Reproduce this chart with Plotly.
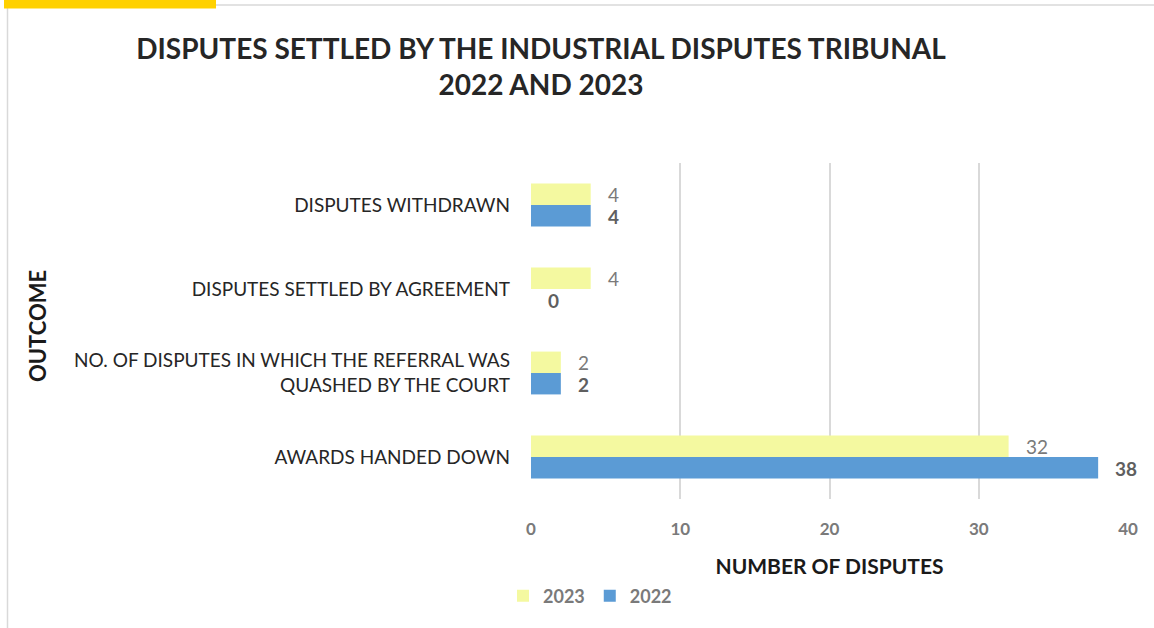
import plotly.graph_objects as go

categories = ["AWARDS HANDED DOWN",
              "NO. OF DISPUTES IN WHICH THE REFERRAL WAS<br>QUASHED BY THE COURT",
              "DISPUTES SETTLED BY AGREEMENT",
              "DISPUTES WITHDRAWN"]
values_2022 = [38, 2, 0, 4]
values_2023 = [32, 2, 4, 4]
x_ticks = [0, 10, 20, 30, 40]

FONT = "Lato, 'Open Sans', sans-serif"
YELLOW = "#F4F9A0"
BLUE = "#5B9BD5"

fig = go.Figure()
fig.add_trace(go.Bar(name="2022", y=categories, x=values_2022, orientation="h",
                     marker=dict(color=BLUE, line=dict(width=0))))
fig.add_trace(go.Bar(name="2023", y=categories, x=values_2023, orientation="h",
                     marker=dict(color=YELLOW, line=dict(width=0))))

# value labels
for cat, v in zip(categories, values_2023):
    fig.add_annotation(x=v, y=cat, text=str(v), showarrow=False, xanchor="left",
                       xshift=15, yshift=11, font=dict(family=FONT, size=19, color="#7a7a7a"))
for cat, v in zip(categories, values_2022):
    fig.add_annotation(x=v, y=cat, text="<b>%d</b>" % v, showarrow=False, xanchor="left",
                       xshift=15, yshift=-11, font=dict(family=FONT, size=19, color="#5f5f5f"))

L, R, T, B = 531, 26, 163, 129
W, H = 1154, 628
pw, ph = W - L - R, H - T - B
def px(x): return (x - L) / pw
def py(y): return (H - B - y) / ph

shapes = [
    dict(type="line", xref="paper", yref="paper", x0=px(215), x1=px(1154), y0=py(5), y1=py(5),
         line=dict(color="#d9d9d9", width=1.5)),
    dict(type="line", xref="paper", yref="paper", x0=px(7.5), x1=px(7.5), y0=py(8), y1=py(628),
         line=dict(color="#d9d9d9", width=1.5)),
    dict(type="rect", xref="paper", yref="paper", x0=px(4), x1=px(216), y0=py(0), y1=py(8.5),
         line=dict(width=0), fillcolor="#FFD100"),
]

fig.update_layout(
    width=W, height=H,
    margin=dict(l=L, r=R, t=T, b=B, autoexpand=False),
    paper_bgcolor="white", plot_bgcolor="white",
    barmode="group", bargap=0.49, bargroupgap=0,
    font=dict(family=FONT, color="#333333"),
    title=dict(text="<b>DISPUTES SETTLED BY THE INDUSTRIAL DISPUTES TRIBUNAL<br>2022 AND 2023</b>",
               xref="container", yref="container",
               x=541 / W, xanchor="center", y=1 - 59 / H, yanchor="middle",
               font=dict(family=FONT, size=28, color="#262626")),
    xaxis=dict(range=[0, 40], tickvals=x_ticks, showgrid=True, gridcolor="#d9d9d9", gridwidth=1.5,
               zeroline=False, showline=False, ticks="", ticklabelstandoff=18,
               tickfont=dict(family=FONT, size=17, color="#7a7a7a", weight="bold"),
               title=dict(text="<b>NUMBER OF DISPUTES</b>", standoff=21,
                          font=dict(family=FONT, size=21, color="#1a1a1a"))),
    yaxis=dict(showgrid=False, zeroline=False, showline=False, ticks="", ticklabelstandoff=20,
               tickfont=dict(family=FONT, size=19, color="#262626")),
    legend=dict(orientation="h", traceorder="reversed", x=px(590), xanchor="center",
                y=py(596), yanchor="middle",
                font=dict(family=FONT, size=18, color="#7a7a7a", weight="bold"),
                itemwidth=30),
    shapes=shapes,
    showlegend=True,
)
fig.add_annotation(text="<b>OUTCOME</b>", xref="paper", yref="paper", x=px(37), y=py(326),
                   xanchor="center", yanchor="middle",
                   textangle=-90, showarrow=False, font=dict(family=FONT, size=22, color="#1a1a1a"))

fig.write_html("out.html", config={"displayModeBar": False},
               post_script="document.body.style.margin='0';document.body.style.overflow='hidden';")
